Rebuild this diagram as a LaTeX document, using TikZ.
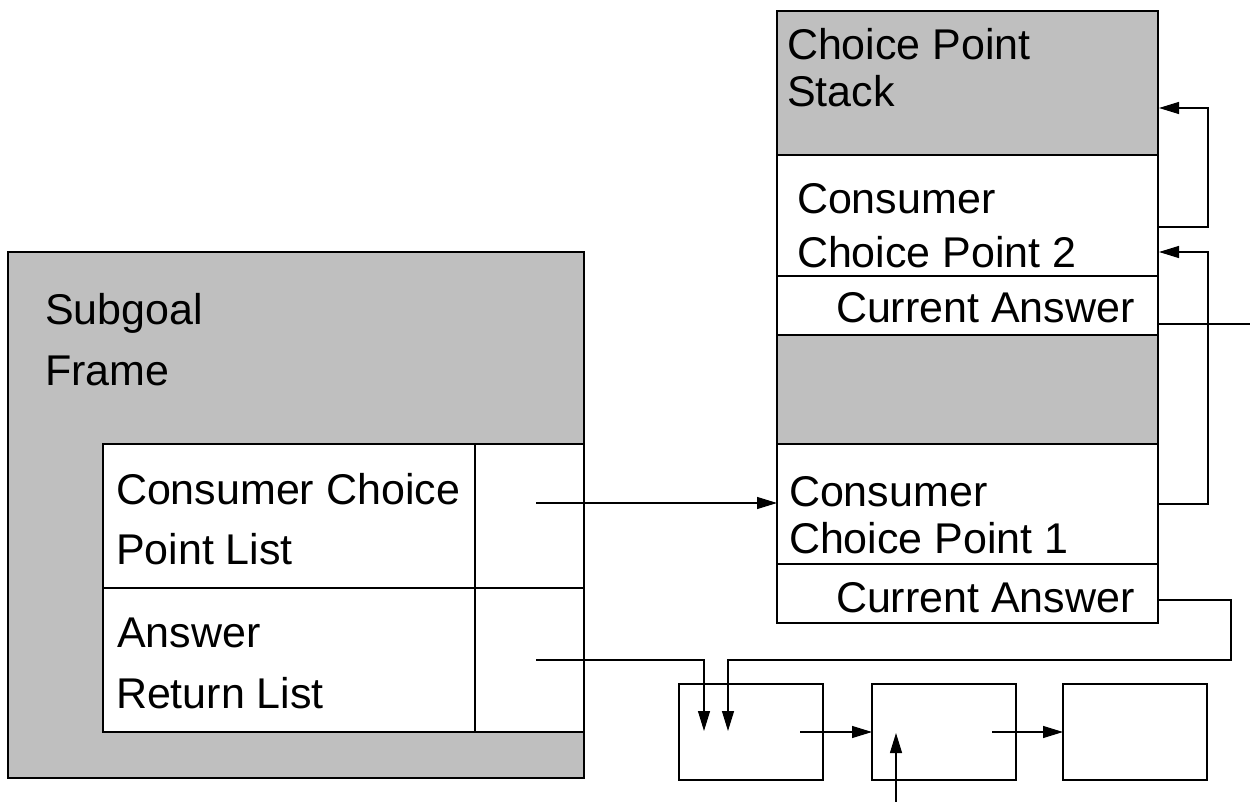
\documentclass[tikz,border=0pt]{standalone}
\usepackage{fontspec}
\setmainfont{Liberation Sans}
\usetikzlibrary{arrows.meta}
\definecolor{boxgray}{RGB}{191,191,191}
\tikzset{
  box/.style={draw=black, line width=1.2pt, rectangle, inner sep=0pt, outer sep=0pt, anchor=north west},
  graybox/.style={box, fill=boxgray},
  whitebox/.style={box, fill=white},
  lbl/.style={anchor=base west, inner sep=0pt, outer sep=0pt, font=\fontsize{43}{50}\selectfont},
  conn/.style={line width=1.2pt, line join=miter},
  arr/.style={conn, -{Triangle[length=20pt,width=12pt]}},
}
\begin{document}
\begin{tikzpicture}[x=1pt,y=-1pt]
\useasboundingbox (0,0) rectangle (1250,802);

% Subgoal frame
\node[graybox, minimum width=576pt, minimum height=526pt] (sg) at (8,252) {};
\node[whitebox, minimum width=481pt, minimum height=144pt] (ccpl) at (103,444) {};
\node[whitebox, minimum width=481pt, minimum height=144pt] (arl) at (103,588) {};
\coordinate (dv) at (475,0);
\draw[conn] (dv |- ccpl.north) -- (dv |- arl.south);

% Choice point stack
\node[graybox, minimum width=381pt, minimum height=144pt] (hdr) at (777,11) {};
\node[whitebox, minimum width=381pt, minimum height=121pt] (cp2) at (777,155) {};
\node[whitebox, minimum width=381pt, minimum height=59pt] (ca2) at (777,276) {};
\node[graybox, minimum width=381pt, minimum height=109pt] (mid) at (777,335) {};
\node[whitebox, minimum width=381pt, minimum height=120pt] (cp1) at (777,444) {};
\node[whitebox, minimum width=381pt, minimum height=59pt] (ca1) at (777,564) {};

% Answer list boxes
\node[whitebox, minimum width=144pt, minimum height=96pt] (b1) at (679,684) {};
\node[whitebox, minimum width=144pt, minimum height=96pt] (b2) at (872,684) {};
\node[whitebox, minimum width=144pt, minimum height=96pt] (b3) at (1063,684) {};

% Labels
\node[lbl] (t1) at (45,324) {Subgoal};
\node[lbl] (t2) at (45,385) {Frame};
\node[lbl] (t3) at (116,504) {Consumer Choice};
\node[lbl] (t4) at (116,564) {Point List};
\node[lbl] (t5) at (117,647) {Answer};
\node[lbl] (t6) at (116,708) {Return List};
\node[lbl] (t7) at (787,60) {Choice Point};
\node[lbl] (t8) at (787,107) {Stack};
\node[lbl] (t9) at (797,214) {Consumer};
\node[lbl] (t10) at (797,268) {Choice Point 2};
\node[lbl] (t11) at (836,323) {Current Answer};
\node[lbl] (t12) at (789,506) {Consumer};
\node[lbl] (t13) at (789,553) {Choice Point 1};
\node[lbl] (t14) at (836,612) {Current Answer};

% Connector points
\coordinate (p1) at (536,503);
\coordinate (p2) at (536,660);
\coordinate (p2a) at (704,660);
\coordinate (p2b) at (704,731);
\coordinate (q0) at (1159,600);
\coordinate (q1) at (1231,600);
\coordinate (q2) at (1231,660);
\coordinate (q3) at (728,660);
\coordinate (q4) at (728,731);
\coordinate (r0) at (1159,227);
\coordinate (r1) at (1208,227);
\coordinate (r2) at (1208,108);
\coordinate (r3) at (1159,108);
\coordinate (s0) at (1159,504);
\coordinate (s1) at (1208,504);
\coordinate (s2) at (1208,252);
\coordinate (s3) at (1159,252);
\coordinate (u0) at (1159,324);
\coordinate (u1) at (1250,324);
\coordinate (v1) at (800,732);
\coordinate (v2) at (992,732);
\coordinate (w0) at (896,802);
\coordinate (w1) at (896,733);

% Connectors
\draw[arr] (p1) -- (p1 -| cp1.west);
\draw[arr] (p2) -- (p2a) -- (p2b);
\draw[arr] (q0) -- (q1) -- (q2) -- (q3) -- (q4);
\draw[arr] (r0) -- (r1) -- (r2) -- (r3);
\draw[arr] (s0) -- (s1) -- (s2) -- (s3);
\draw[conn] (u0) -- (u1);
\draw[arr] (v1) -- (b2.west);
\draw[arr] (v2) -- (b3.west);
\draw[arr] (w0) -- (w1);
\end{tikzpicture}
\end{document}
